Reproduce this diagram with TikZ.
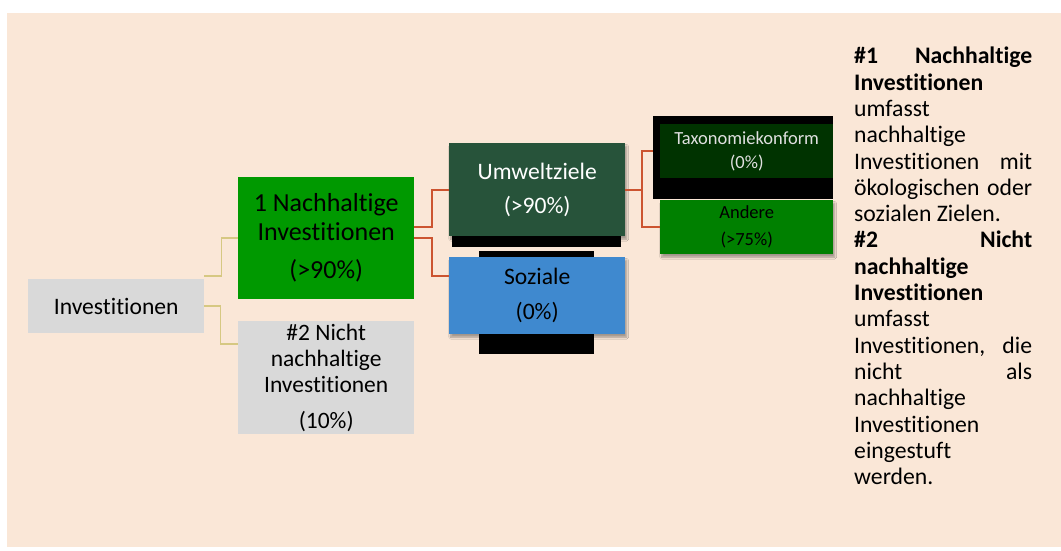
\documentclass[tikz,border=0pt]{standalone}
\usepackage{fontspec}
\setmainfont{Carlito}[Ligatures=NoCommon]
\usetikzlibrary{shadows.blur}
\definecolor{bgc}{HTML}{FAE7D7}
\definecolor{grayc}{HTML}{D9D9D9}
\definecolor{nhgreen}{HTML}{009900}
\definecolor{uzgreen}{HTML}{27533A}
\definecolor{soblue}{HTML}{3F89CF}
\definecolor{tkgreen}{HTML}{003300}
\definecolor{angreen}{HTML}{008000}
\definecolor{rlc}{HTML}{CC5430}
\definecolor{ylc}{HTML}{D6C882}
\begin{document}
\begin{tikzpicture}[x=1pt,y=-1pt,
  box/.style={inner sep=0pt, anchor=north west, align=center},
  yline/.style={draw=ylc, line width=1.6pt},
  rline/.style={draw=rlc, line width=2pt},
  shad/.style={blur shadow={shadow xshift=1.5pt, shadow yshift=-3pt, shadow blur steps=6, shadow opacity=35}},
  fbig/.style={font=\fontsize{23.6}{34}\selectfont},
  fsmall/.style={font=\fontsize{18.5}{24}\selectfont}]
\useasboundingbox (0,0) rectangle (1061,550);
\fill[white] (0,0) rectangle (1061,550);
\fill[bgc] (7,13) rectangle (1061,547);

% black artifact bars
\fill[black] (452,230) rectangle (621,247);
\fill[black] (479,251) rectangle (594,260);
\fill[black] (479,330) rectangle (594,354);
\fill[black] (653,116) rectangle (833,199);

% boxes
\node[box, fill=grayc, minimum width=176pt, minimum height=54pt,
  font=\fontsize{23.6}{28}\selectfont] (inv) at (28,279) {Investitionen};
\node[box, fill=nhgreen, minimum width=176pt, minimum height=122pt,
  font=\fontsize{26}{29}\selectfont] (nh) at (238,177)
  {1 Nachhaltige\\Investitionen\\[9pt](>90\%)};
\node[box, fill=grayc, minimum width=176pt, minimum height=113pt,
  font=\fontsize{23.5}{26}\selectfont] (nn) at (238,321)
  {\#2 Nicht\\nachhaltige\\Investitionen\\[10pt](10\%)};
\node[box, fill=uzgreen, shad, minimum width=176pt, minimum height=93pt,
  fbig, text=white] (uz) at (449,143) {Umweltziele\\(>90\%)};
\node[box, fill=soblue, shad, minimum width=176pt, minimum height=77pt,
  font=\fontsize{23.6}{35}\selectfont] (so) at (449,257) {Soziale\\(0\%)};
\node[box, fill=tkgreen, minimum width=173pt, minimum height=54pt,
  fsmall, text=white!88!black] (tk) at (660,124) {Taxonomiekonform\\(0\%)};
\node[box, fill=angreen, shad, minimum width=173pt, minimum height=54pt,
  font=\fontsize{18.5}{27}\selectfont] (an) at (660,200) {Andere\\(>75\%)};

% connectors
\draw[yline] ([yshift=3pt]inv.north east) -- ++(17,0) |- (nh.west);
\draw[yline] (inv.east) -- ++(16,0) |- ([yshift=-23pt]nn.north west);
\draw[rline] ([yshift=11pt]nh.east) -- ++(18,0) |- (uz.west);
\draw[rline] (nh.east) -- ++(18,0) |- ([yshift=-19pt]so.north west);
\draw[rline] (uz.east) -- ++(17,0) |- ([xshift=-7pt]tk.west);
\draw[rline] (uz.east) -- ++(17,0) |- (an.west);

% legend text
\node[anchor=north west, inner sep=0pt, align=left,
  font=\fontsize{23.7}{26.3}\selectfont] (legend) at (854,47) {%
\hbox to 178pt{\textbf{\#1}\hfill\textbf{Nachhaltige}}\\
\textbf{Investitionen}\\
umfasst\\
nachhaltige\\
\hbox to 178pt{Investitionen\hfill mit}\\
\hbox to 178pt{ökologischen\hfill oder}\\
sozialen Zielen.\\
\hbox to 178pt{\textbf{\#2}\hfill\textbf{Nicht}}\\
\textbf{nachhaltige}\\
\textbf{Investitionen}\\
umfasst\\
\hbox to 178pt{Investitionen,\hfill die}\\
\hbox to 178pt{nicht\hfill als}\\
nachhaltige\\
Investitionen\\
eingestuft\\
werden.};
\end{tikzpicture}
\end{document}
